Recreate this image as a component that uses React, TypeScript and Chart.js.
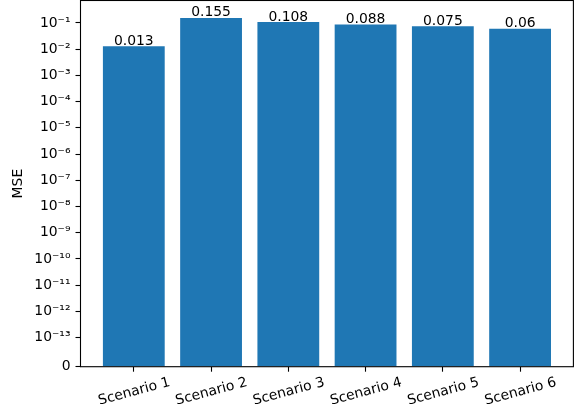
import React, { useEffect, useRef } from "react";
import { Chart, registerables, Scale } from "chart.js";

Chart.register(...registerables);

const CATEGORIES = ["Scenario 1", "Scenario 2", "Scenario 3", "Scenario 4", "Scenario 5", "Scenario 6"];
const MSE_VALUES = [0.013, 0.155, 0.108, 0.088, 0.075, 0.06];
const Y_TICK_EXPONENTS = [-13, -12, -11, -10, -9, -8, -7, -6, -5, -4, -3, -2, -1];

const LINTHRESH = 1e-13;
const LINSCALE_ADJ = 1 / (1 - 1 / 10);

function symT(v: number): number {
  const a = Math.abs(v);
  const s = Math.sign(v);
  if (a <= LINTHRESH) return (s * LINSCALE_ADJ * a) / LINTHRESH;
  return s * (LINSCALE_ADJ + Math.log10(a / LINTHRESH));
}
function symInv(t: number): number {
  const a = Math.abs(t);
  const s = Math.sign(t);
  if (a <= LINSCALE_ADJ) return (s * a * LINTHRESH) / LINSCALE_ADJ;
  return s * LINTHRESH * Math.pow(10, a - LINSCALE_ADJ);
}

const SUP: Record<string, string> = {
  "-": "\u207B", "0": "\u2070", "1": "\u00B9", "2": "\u00B2", "3": "\u00B3", "4": "\u2074",
  "5": "\u2075", "6": "\u2076", "7": "\u2077", "8": "\u2078", "9": "\u2079",
};
function supStr(n: number): string {
  return String(n).split("").map((c) => SUP[c] || c).join("");
}

class SymlogScale extends Scale {
  static id = "symlog";
  static defaults = {};
  _tmin = 0;
  _tmax = 1;
  determineDataLimits() {
    const { max } = (this as any).getMinMax(true);
    (this as any).min = 0;
    (this as any).max = symInv(symT(max) * 1.05);
  }
  buildTicks() {
    return [0, ...Y_TICK_EXPONENTS.map((e) => Math.pow(10, e))].map((v) => ({ value: v }));
  }
  configure() {
    super.configure();
    this._tmin = symT((this as any).min);
    this._tmax = symT((this as any).max);
  }
  getPixelForValue(v: number) {
    return (this as any).getPixelForDecimal((symT(v) - this._tmin) / (this._tmax - this._tmin));
  }
  getValueForPixel(p: number) {
    return symInv(this._tmin + (this as any).getDecimalForPixel(p) * (this._tmax - this._tmin));
  }
  getLabelForValue(v: number) {
    return String(v);
  }
}
Chart.register(SymlogScale as any);

const FONT = "'DejaVu Sans'";
const FS = 13.9;

const framePlugin = {
  id: "frame",
  afterDraw(chart: any) {
    const { ctx, chartArea: a } = chart;
    ctx.save();
    ctx.strokeStyle = "#000";
    ctx.lineWidth = 1.1;
    ctx.strokeRect(a.left, a.top, a.right - a.left, a.bottom - a.top);
    ctx.restore();
  },
};

const barLabelPlugin = {
  id: "barLabels",
  afterDatasetsDraw(chart: any) {
    const ctx = chart.ctx;
    const meta = chart.getDatasetMeta(0);
    ctx.save();
    ctx.font = `${FS}px ${FONT}`;
    ctx.fillStyle = "#000";
    ctx.textAlign = "center";
    ctx.textBaseline = "alphabetic";
    meta.data.forEach((el: any, i: number) => {
      ctx.fillText(String(MSE_VALUES[i]), el.x, el.y - 1.5);
    });
    ctx.restore();
  },
};

export default function App() {
  const ref = useRef<HTMLCanvasElement>(null);
  useEffect(() => {
    if (!ref.current) return;
    const n = CATEGORIES.length;
    const span = n - 1 + 0.8;
    const chart = new Chart(ref.current, {
      type: "bar",
      data: {
        datasets: [
          {
            data: MSE_VALUES.map((v, i) => ({ x: i, y: v })),
            backgroundColor: "#1f77b4",
            borderWidth: 0,
            barPercentage: 0.8,
            categoryPercentage: 1.0,
          },
        ],
      },
      options: {
        responsive: false,
        animation: false,
        devicePixelRatio: 1,
        layout: { padding: { left: 0, right: 7.6, top: 0.5, bottom: 0 } },
        plugins: { legend: { display: false }, tooltip: { enabled: false } },
        scales: {
          x: {
            type: "linear",
            offset: false,
            min: -0.4 - 0.05 * span,
            max: n - 1 + 0.4 + 0.05 * span,
            afterBuildTicks: (s: any) => {
              s.ticks = CATEGORIES.map((_, i) => ({ value: i }));
            },
            afterFit: (s: any) => {
              s.height = 39.3;
              s.paddingLeft = 0;
              s.paddingRight = 0;
            },
            border: { display: false },
            grid: { offset: false, drawOnChartArea: false, drawTicks: true, tickLength: 5, tickColor: "#000", tickWidth: 1.1 },
            ticks: {
              callback: (v: any) => CATEGORIES[v as number] ?? "",
              minRotation: 15,
              maxRotation: 15,
              labelOffset: 36,
              padding: 2.5,
              color: "#000",
              font: { family: FONT, size: FS },
              autoSkip: false,
            },
          },
          y: {
            type: "symlog" as any,
            afterFit: (s: any) => {
              s.width = 80.5;
              s.paddingTop = 0;
              s.paddingBottom = 0;
            },
            border: { display: false },
            grid: { drawOnChartArea: false, drawTicks: true, tickLength: 5, tickColor: "#000", tickWidth: 1.1 },
            ticks: {
              callback: (v: any) => (v === 0 ? "0" : "10" + supStr(Math.round(Math.log10(v)))),
              padding: 5,
              color: "#000",
              font: { family: FONT, size: FS },
              autoSkip: false,
            },
            title: {
              display: true,
              text: "MSE",
              color: "#000",
              font: { family: FONT, size: FS },
              padding: { top: 10.5, bottom: 0 },
            },
          } as any,
        },
      },
      plugins: [framePlugin, barLabelPlugin],
    } as any);
    return () => chart.destroy();
  }, []);
  return (
    <div style={{ position: "fixed", left: 0, top: 0, width: 581, height: 406, background: "#fff" }}>
      <canvas ref={ref} width={581} height={406} />
    </div>
  );
}
